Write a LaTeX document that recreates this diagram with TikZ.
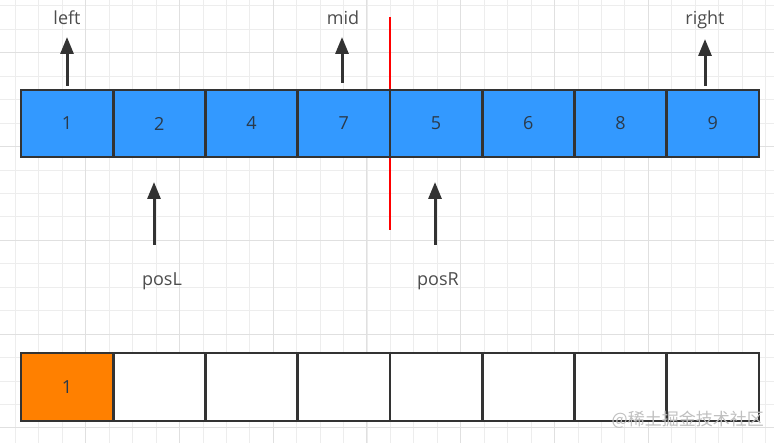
\documentclass[tikz,border=0pt]{standalone}
\usepackage{fontspec}
\setmainfont{Open Sans}
\newfontfamily\cjk{Noto Sans CJK SC}
\usetikzlibrary{arrows.meta}
\definecolor{gridminor}{HTML}{EDEDED}
\definecolor{gridmajor}{HTML}{E0E0E0}
\definecolor{cellblue}{HTML}{3399FF}
\definecolor{cellorange}{HTML}{FF8000}
\definecolor{edge}{HTML}{333333}
\definecolor{labeltext}{HTML}{4D4D4D}
\definecolor{digittext}{HTML}{2B3A4A}
\definecolor{wmark}{HTML}{C0C0C0}
\tikzset{
  bluecell/.style={draw=edge, line width=2.8pt, fill=cellblue, minimum width=92.25pt, minimum height=67pt, inner sep=0pt, text=digittext, font=\fontsize{18}{21}\selectfont},
  emptycell/.style={draw=edge, line width=2.8pt, fill=white, minimum width=92.25pt, minimum height=68pt, inner sep=0pt, text=digittext, font=\fontsize{18}{21}\selectfont},
  orangecell/.style={emptycell, fill=cellorange},
  lbl/.style={anchor=base, inner sep=0pt, text=labeltext, font=\fontsize{18}{21}\selectfont},
  ptr/.style={draw=edge, line width=3pt, -{Triangle[length=17pt,width=13pt]}},
  splitline/.style={draw=red, line width=2.4pt},
}
\begin{document}
\begin{tikzpicture}[x=1pt,y=-1pt]
\useasboundingbox (0,0) rectangle (774,443);
\fill[white] (0,0) rectangle (774,443);
% grid
\foreach \k in {0,...,32} {
  \pgfmathsetmacro{\gx}{15.4+23.44*\k}
  \draw[gridminor, line width=0.8pt] (\gx,0) -- (\gx,443);
}
\foreach \k in {0,...,18} {
  \pgfmathsetmacro{\gy}{5.9+23.44*\k}
  \draw[gridminor, line width=0.8pt] (0,\gy) -- (774,\gy);
}
\foreach \k in {0,...,7} {
  \pgfmathsetmacro{\gx}{85.7+93.75*(\k-1)}
  \draw[gridmajor, line width=1pt] (\gx,0) -- (\gx,443);
}
\foreach \k in {0,...,4} {
  \pgfmathsetmacro{\gy}{52.8+93.75*\k}
  \draw[gridmajor, line width=1pt] (0,\gy) -- (774,\gy);
}
% split line (behind the cells)
\coordinate (stop) at (390,17);
\coordinate (sbot) at (390,230);
\draw[splitline] (stop) -- (sbot);
% top row
\foreach \v [count=\i] in {1,2,4,7,5,6,8,9} {
  \node[bluecell] (c\i) at ({21+92.25*(\i-0.5)},123.5) {\v};
}
% bottom row
\node[orangecell] (d1) at ({21+92.25*0.5},387) {1};
\foreach \i in {2,...,8} {
  \node[emptycell] (d\i) at ({21+92.25*(\i-0.5)},387) {};
}
% labels
\node[lbl] (left) at (67,25) {left};
\node[lbl] (mid) at (343,25) {mid};
\node[lbl] (right) at (705,25) {right};
\node[lbl] (posL) at (162,286) {posL};
\node[lbl] (posR) at (438,286) {posR};
% pointer arrows
\coordinate (lfoot) at (67,86);   \coordinate (ltip) at (67,37);
\coordinate (mfoot) at (342,83);  \coordinate (mtip) at (342,37);
\coordinate (rfoot) at (705,86);  \coordinate (rtip) at (705,39);
\coordinate (plfoot) at (154,245); \coordinate (pltip) at (154,182);
\coordinate (prfoot) at (435,245); \coordinate (prtip) at (435,182);
\draw[ptr] (lfoot) -- (ltip);
\draw[ptr] (mfoot) -- (mtip);
\draw[ptr] (rfoot) -- (rtip);
\draw[ptr] (plfoot) -- (pltip);
\draw[ptr] (prfoot) -- (prtip);
% watermark
\node[anchor=east, inner sep=0pt, text=wmark, font=\cjk\fontsize{17}{19}\selectfont] (wm) at (764,420) {@稀土掘金技术社区};
\end{tikzpicture}
\end{document}
